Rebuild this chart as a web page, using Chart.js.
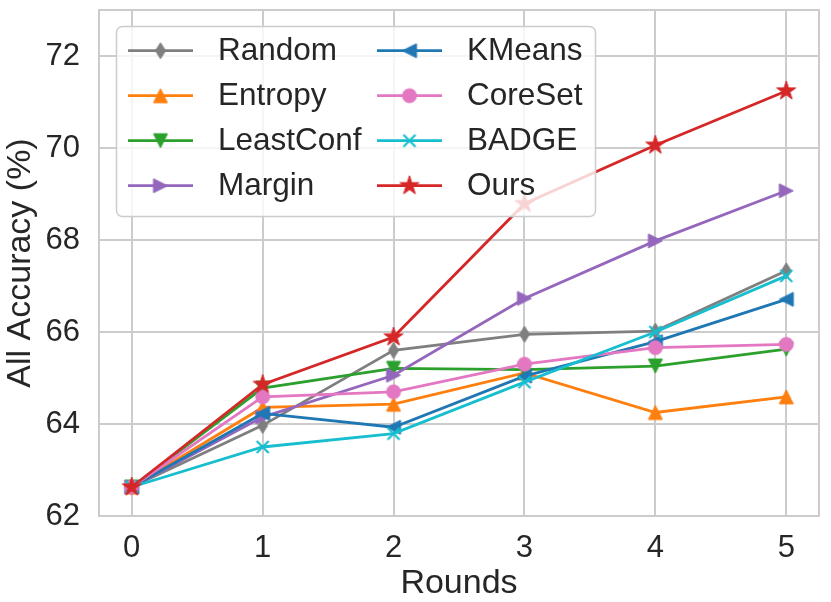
<!DOCTYPE html>
<html>
<head>
<meta charset="utf-8">
<script src="https://cdn.jsdelivr.net/npm/chart.js@4.4.0/dist/chart.umd.min.js"></script>
<style>
  html, body { margin: 0; padding: 0; background: #ffffff; }
  #wrap { width: 831px; height: 602px; }
</style>
</head>
<body>
<div id="wrap"><canvas id="accChart" width="831" height="602"></canvas></div>
<script>
// Values
const rounds = [0, 1, 2, 3, 4, 5];
const yTicks = [62, 64, 66, 68, 70, 72];
const methods = ['Random', 'Entropy', 'LeastConf', 'Margin', 'KMeans', 'CoreSet', 'BADGE', 'Ours'];

const randomAcc    = [62.63, 63.97, 65.60, 65.95, 66.02, 67.33];
const entropyAcc   = [62.63, 64.36, 64.43, 65.11, 64.25, 64.59];
const leastConfAcc = [62.63, 64.78, 65.21, 65.18, 65.26, 65.63];
const marginAcc    = [62.63, 64.15, 65.06, 66.73, 67.98, 69.07];
const kmeansAcc    = [62.63, 64.23, 63.93, 65.04, 65.79, 66.71];
const coreSetAcc   = [62.63, 64.59, 64.70, 65.30, 65.66, 65.73];
const badgeAcc     = [62.63, 63.50, 63.79, 64.91, 66.00, 67.22];
const oursAcc      = [62.63, 64.86, 65.89, 68.79, 70.06, 71.24];

const seriesValues = [randomAcc, entropyAcc, leastConfAcc, marginAcc, kmeansAcc, coreSetAcc, badgeAcc, oursAcc];
const colors = ['#7f7f7f', '#ff7f0e', '#2ca02c', '#9467bd', '#1f77b4', '#e377c2', '#17becf', '#d62728'];
const markerKinds = ['thinDiamond', 'triUp', 'triDown', 'triRight', 'triLeft', 'circle', 'x', 'star'];

const FONT = "'Liberation Sans', Arial, sans-serif";
const TEXT = '#262626';
const GRID = '#cccccc';

// Build matplotlib-like marker images
function makeMarker(kind, color) {
    const c = document.createElement('canvas');
    c.width = 26; c.height = 26;
    const g = c.getContext('2d');
    const m = 13;
    g.fillStyle = color;
    g.strokeStyle = color;
    g.lineWidth = 1;
    g.lineJoin = 'miter';
    g.beginPath();
    if (kind === 'circle') {
        g.arc(m, m, 7, 0, Math.PI * 2);
    } else if (kind === 'triUp') {
        g.moveTo(m, m - 7); g.lineTo(m + 7, m + 7); g.lineTo(m - 7, m + 7);
    } else if (kind === 'triDown') {
        g.moveTo(m, m + 7); g.lineTo(m + 7, m - 7); g.lineTo(m - 7, m - 7);
    } else if (kind === 'triLeft') {
        g.moveTo(m - 7, m); g.lineTo(m + 7, m - 7); g.lineTo(m + 7, m + 7);
    } else if (kind === 'triRight') {
        g.moveTo(m + 7, m); g.lineTo(m - 7, m - 7); g.lineTo(m - 7, m + 7);
    } else if (kind === 'thinDiamond') {
        g.moveTo(m, m - 8); g.lineTo(m + 5, m); g.lineTo(m, m + 8); g.lineTo(m - 5, m);
    } else if (kind === 'star') {
        for (let k = 0; k < 10; k++) {
            const r = k % 2 === 0 ? 10 : 3.82;
            const a = -Math.PI / 2 + k * Math.PI / 5;
            const px = m + r * Math.cos(a), py = m + r * Math.sin(a);
            if (k === 0) g.moveTo(px, py); else g.lineTo(px, py);
        }
    } else if (kind === 'x') {
        g.lineWidth = 2.2;
        g.moveTo(m - 6, m - 6); g.lineTo(m + 6, m + 6);
        g.moveTo(m + 6, m - 6); g.lineTo(m - 6, m + 6);
        g.stroke();
        return c;
    }
    g.closePath();
    g.fill();
    g.stroke();
    return c;
}

const markers = markerKinds.map((k, i) => makeMarker(k, colors[i]));

const datasets = methods.map((name, i) => ({
    label: name,
    data: rounds.map((r, j) => ({ x: r, y: seriesValues[i][j] })),
    borderColor: colors[i],
    backgroundColor: colors[i],
    borderWidth: 2.8,
    tension: 0,
    fill: false,
    pointStyle: markers[i],
    pointRadius: 7,
    pointHoverRadius: 7,
    order: methods.length - i
}));

// Four spines of the axes box
const spines = {
    id: 'spines',
    beforeDatasetsDraw(chart) {
        const a = chart.chartArea;
        const ctx = chart.ctx;
        ctx.save();
        ctx.strokeStyle = GRID;
        ctx.lineWidth = 2;
        ctx.strokeRect(a.left, a.top, a.right - a.left, a.bottom - a.top);
        ctx.restore();
    }
};

// Two-column legend inside the plot, line + marker handles
const legendBox = {
    id: 'legendBox',
    afterDatasetsDraw(chart) {
        const ctx = chart.ctx;
        ctx.save();
        ctx.beginPath();
        ctx.roundRect(116.5, 26.5, 479, 190, 6);
        ctx.fillStyle = 'rgba(255,255,255,0.8)';
        ctx.fill();
        ctx.strokeStyle = GRID;
        ctx.lineWidth = 1.5;
        ctx.stroke();
        ctx.font = '31.5px ' + FONT;
        ctx.textBaseline = 'middle';
        ctx.textAlign = 'left';
        methods.forEach((name, i) => {
            const col = Math.floor(i / 4), row = i % 4;
            const x0 = col === 0 ? 128 : 377;
            const y = 50.7 + row * 45;
            ctx.strokeStyle = colors[i];
            ctx.lineWidth = 2.8;
            ctx.beginPath();
            ctx.moveTo(x0, y);
            ctx.lineTo(x0 + 65, y);
            ctx.stroke();
            const mk = markers[i];
            ctx.drawImage(mk, x0 + 32.5 - mk.width / 2, y - mk.height / 2);
            ctx.fillStyle = TEXT;
            ctx.fillText(name, x0 + 90, y + 1);
        });
        ctx.restore();
    }
};

const ctx = document.getElementById('accChart').getContext('2d');
const accChart = new Chart(ctx, {
    type: 'line',
    data: { datasets: datasets },
    options: {
        responsive: false,
        devicePixelRatio: 1,
        animation: false,
        layout: { padding: { top: 10, right: 12, left: 0, bottom: 0 } },
        plugins: {
            legend: { display: false },
            tooltip: { enabled: false }
        },
        scales: {
            x: {
                type: 'linear',
                min: -0.25,
                max: 5.25,
                afterBuildTicks: s => { s.ticks = rounds.map(v => ({ value: v })); },
                afterFit: s => { s.height = 86; s.paddingLeft = 0; s.paddingRight = 0; },
                grid: { color: GRID, lineWidth: 2, drawTicks: false },
                border: { display: false },
                ticks: { color: TEXT, font: { family: FONT, size: 31 }, padding: 14 },
                title: {
                    display: true, text: 'Rounds', color: TEXT,
                    font: { family: FONT, size: 34, lineHeight: 1 },
                    padding: { top: 0, bottom: 1 }
                }
            },
            y: {
                type: 'linear',
                min: 62,
                max: 73,
                afterBuildTicks: s => { s.ticks = yTicks.map(v => ({ value: v })); },
                afterFit: s => { s.width = 99; s.paddingTop = 0; s.paddingBottom = 0; },
                grid: { color: GRID, lineWidth: 2, drawTicks: false },
                border: { display: false },
                ticks: { color: TEXT, font: { family: FONT, size: 31 }, padding: 19 },
                title: {
                    display: true, text: 'All Accuracy (%)', color: TEXT,
                    font: { family: FONT, size: 34, lineHeight: 1 },
                    padding: { top: 4, bottom: 0 }
                }
            }
        }
    },
    plugins: [spines, legendBox]
});
</script>
</body>
</html>
